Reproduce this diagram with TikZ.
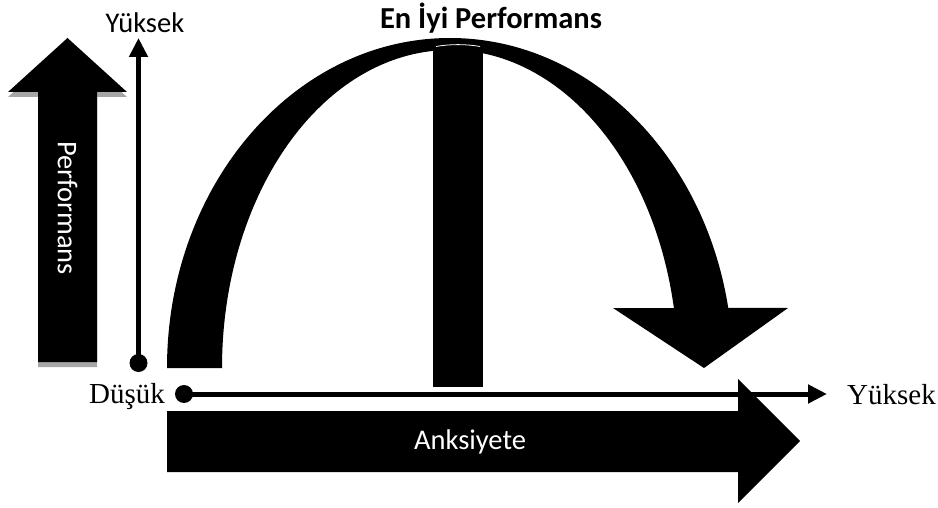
\documentclass[tikz,border=0pt]{standalone}
\usepackage{fontspec}
\setmainfont{Liberation Serif}
\newfontfamily\calfont{Carlito}
\usetikzlibrary{arrows.meta}
\begin{document}
\begin{tikzpicture}[x=1pt,y=1pt,
  blk/.style={fill=black},
  shadowfill/.style={fill=black!35},
  axisline/.style={line width=5pt, -{Triangle[length=19pt,width=18pt]}},
  dotfill/.style={fill=black},
  barstyle/.style={fill=black},
  bartop/.style={draw=white, line width=0.8pt},
  sanslbl/.style={font=\calfont\fontsize{28.5}{34}\selectfont, inner sep=0pt},
  boldlbl/.style={font=\calfont\bfseries\fontsize{30.5}{36}\selectfont, inner sep=0pt},
  seriflbl/.style={font=\fontsize{29}{34}\selectfont, inner sep=0pt}]
\useasboundingbox (0,0) rectangle (938,507);

% Performans arrow with shadow
\fill[shadowfill] (38,140) -- (97,140) -- (97,410) -- (127,410) -- (67.5,464) -- (8,410) -- (38,410) -- cycle;
\fill[blk] (38,145) -- (97,145) -- (97,415) -- (127,415) -- (67.5,469) -- (8,415) -- (38,415) -- cycle;
\node[sanslbl, text=white, rotate=-90] (perf) at (67.5,299) {Performans};

% vertical axis
\coordinate (vlow) at (138.5,144);
\coordinate (vhigh) at (138.5,469);
\draw[axisline] (vlow) -- (vhigh);
\fill[dotfill] (vlow) circle (9);
\node[sanslbl, anchor=base] (vtop) at (145,474) {Yüksek};

% curved arrow
\fill[blk] (167,139) arc[start angle=180, end angle=10.48, x radius=283, y radius=330]
  -- (788,199) -- (704,139) -- (613,199) -- (673.9,199)
  arc[start angle=10.88, end angle=180, x radius=228, y radius=318]
  -- cycle;

% middle bar
\fill[barstyle] (433,120) rectangle (483,461);
\draw[bartop] (436,460.5) .. controls (450,463) and (466,463) .. (480,460.5);
\node[boldlbl, anchor=base] (best) at (491,478) {En İyi Performans};

% Anksiyete arrow
\fill[blk] (167,96) -- (738,96) -- (738,128) -- (800,66) -- (738,4) -- (738,35) -- (167,35) -- cycle;
\node[sanslbl, text=white, anchor=base] (anks) at (470,58) {Anksiyete};

% horizontal axis
\coordinate (hlow) at (184,113);
\coordinate (hhigh) at (827,113);
\draw[axisline] (hlow) -- (hhigh);
\fill[dotfill] (hlow) circle (9);
\node[seriflbl, anchor=base east] (low) at (165,104) {Düşük};
\node[seriflbl, anchor=base west] (high) at (847,103) {Yüksek};
\end{tikzpicture}
\end{document}
